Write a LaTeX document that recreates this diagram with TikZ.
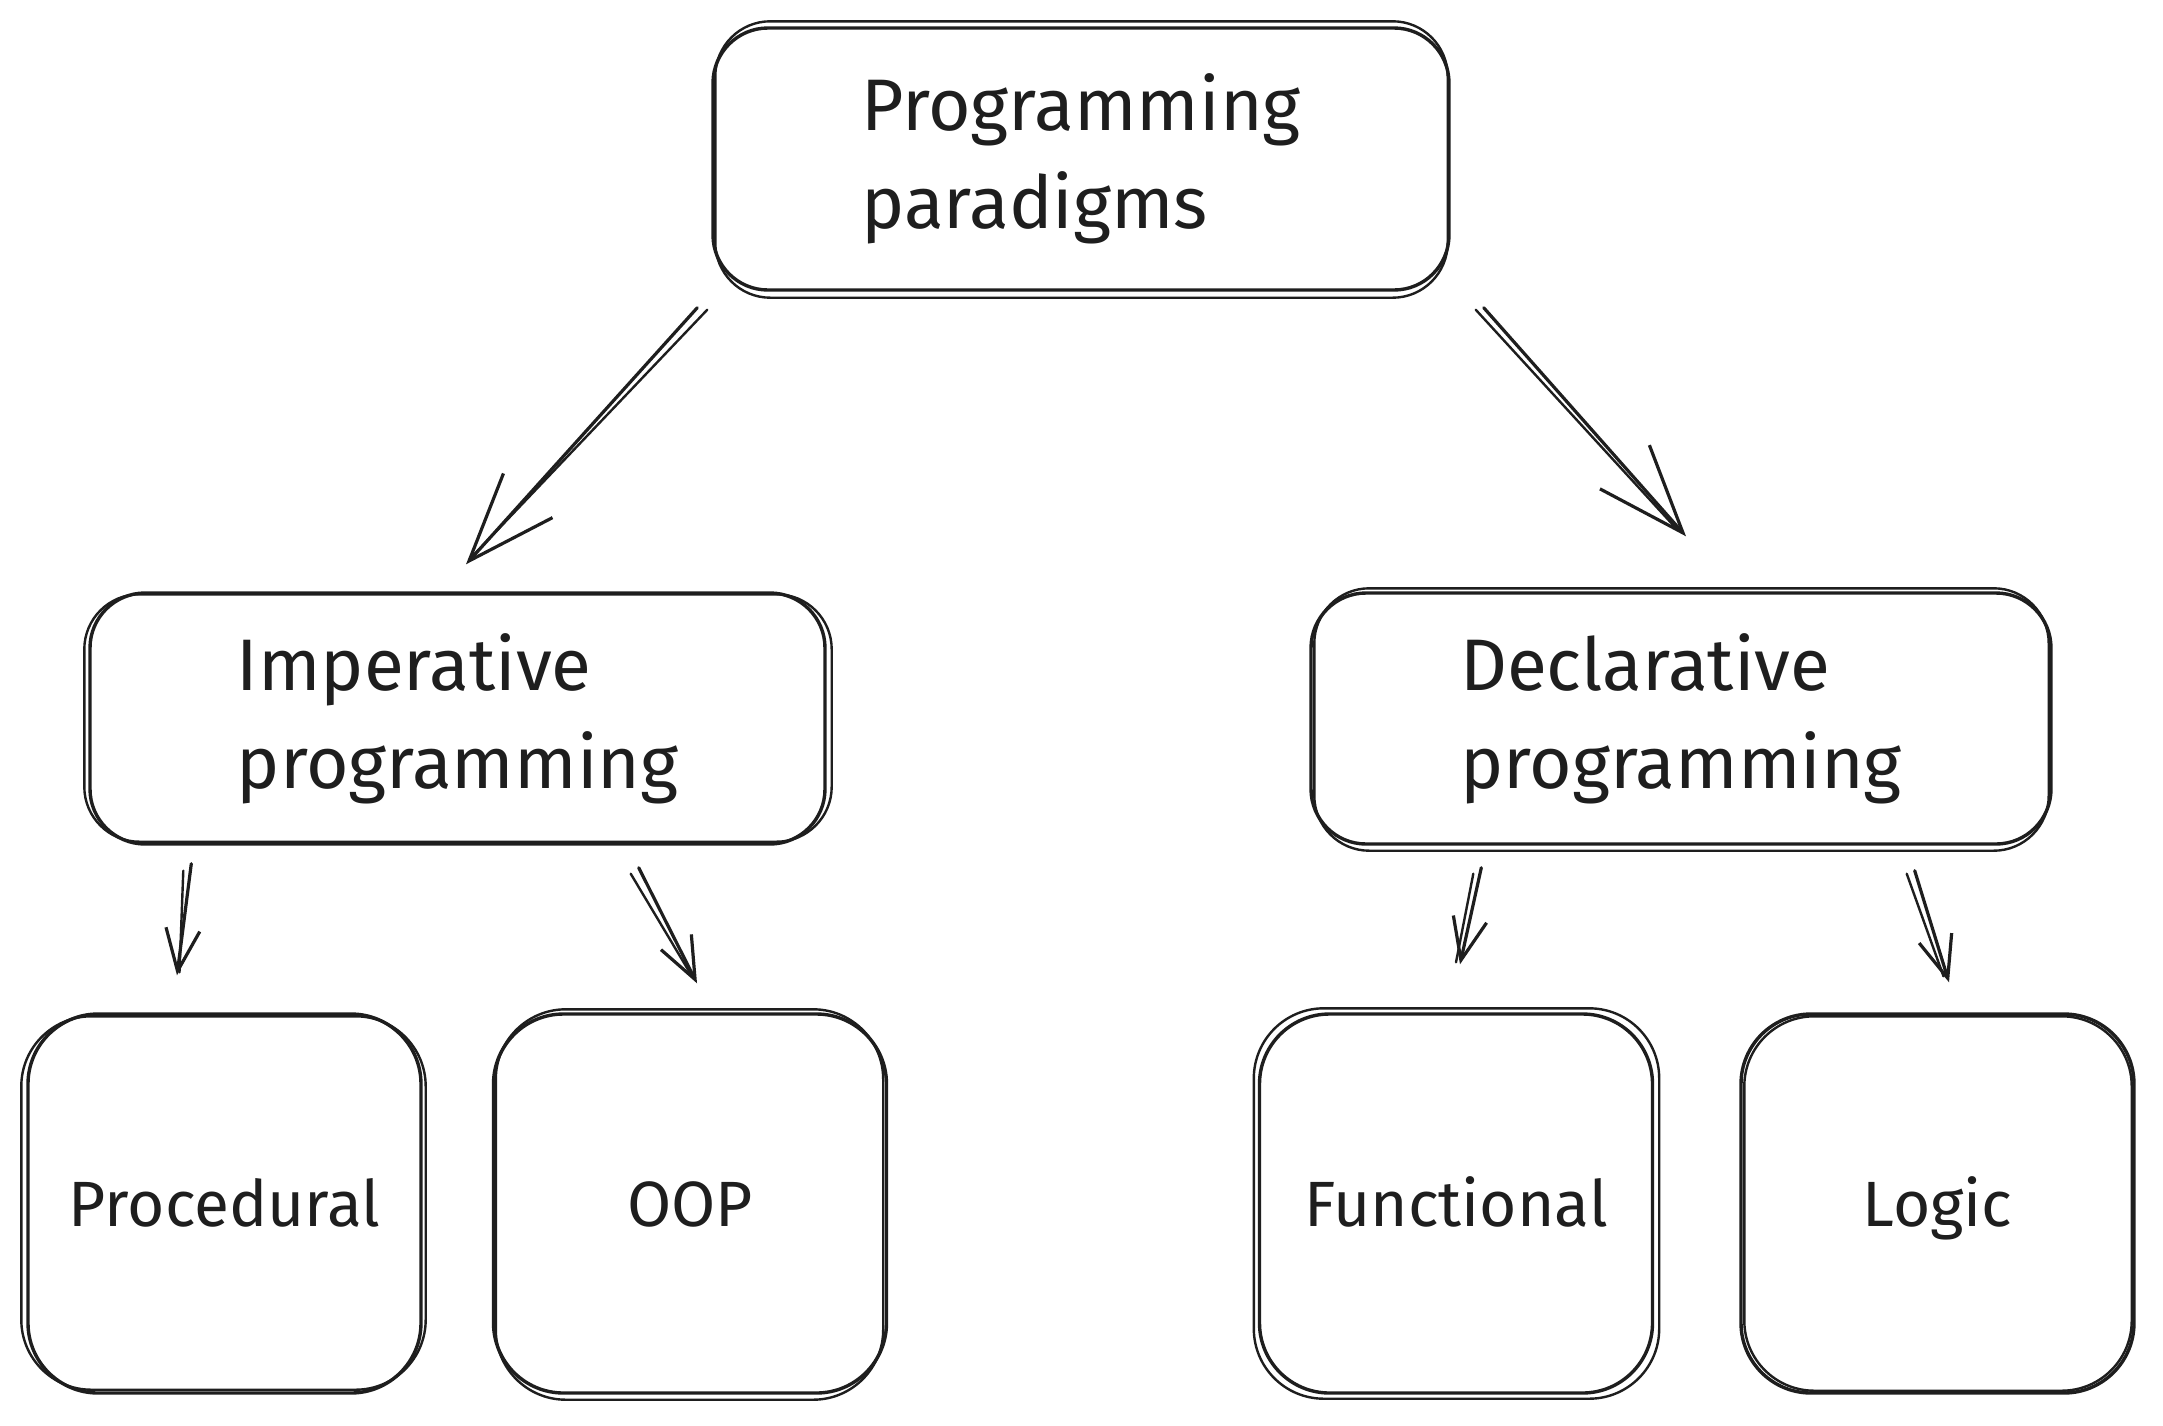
\documentclass[tikz,border=0pt]{standalone}
\usepackage{fontspec}
\setmainfont{Fira Sans}
\usetikzlibrary{arrows.meta}
\definecolor{ink}{HTML}{1E1E1E}
\begin{document}
\begin{tikzpicture}[x=1pt,y=-1pt,
  box/.style={draw=ink, line width=3.4pt, inner sep=0pt, text=ink},
  bigbox/.style={box, rounded corners=55pt, align=left, font=\fontsize{73}{98}\selectfont},
  leafbox/.style={box, rounded corners=70pt, minimum width=393pt, minimum height=379pt, font=\fontsize{64}{76}\selectfont, text height=46pt, text depth=0pt},
  skA/.style={draw=ink, line width=2.4pt, rounded corners=55pt},
  skB/.style={draw=ink, line width=2.4pt, rounded corners=70pt},
  bigarr/.style={draw=ink, line width=3.2pt, line cap=round, -{Straight Barb[length=88pt,width=66pt,line width=3.2pt]}},
  smallarr/.style={draw=ink, line width=3.2pt, line cap=round, -{Straight Barb[length=42pt,width=34pt,line width=3.2pt]}},
  shaft/.style={draw=ink, line width=2.4pt, line cap=round}]
\useasboundingbox[fill=white] (0,0) rectangle (2163,1425);

% boxes
\node[bigbox, minimum width=736pt, minimum height=262pt] (top) at (1081,159) {Programming\\paradigms};
\node[bigbox, minimum width=735pt, minimum height=251pt] (imp) at (457.5,718.5) {Imperative\\programming};
\node[bigbox, minimum width=740pt, minimum height=251pt] (dec) at (1681,718.5) {Declarative\\programming};
\node[leafbox] (proc) at (224.5,1203.5) {Procedural};
\node[leafbox] (oop) at (690,1203.5) {OOP};
\node[leafbox] (func) at (1456,1203.5) {Functional};
\node[leafbox] (logic) at (1937.5,1203.5) {Logic};

% sketchy second strokes
\draw[skA] ([shift={(4,-5)}]top.north west) rectangle ([shift={(-3,6)}]top.south east);
\draw[skA] ([shift={(-4,3)}]imp.north west) rectangle ([shift={(5,-4)}]imp.south east);
\draw[skA] ([shift={(5,-3)}]dec.north west) rectangle ([shift={(-4,5)}]dec.south east);
\draw[skB] ([shift={(-5,4)}]proc.north west) rectangle ([shift={(3,-5)}]proc.south east);
\draw[skB] ([shift={(4,-3)}]oop.north west) rectangle ([shift={(-5,5)}]oop.south east);
\draw[skB] ([shift={(-4,-4)}]func.north west) rectangle ([shift={(5,4)}]func.south east);
\draw[skB] ([shift={(5,4)}]logic.north west) rectangle ([shift={(-4,-4)}]logic.south east);

% connectors
\draw[bigarr] ([shift={(-14,16)}]top.south west) -- ([shift={(8.5,-27)}]imp.north);
\draw[shaft] ([shift={(-4,18)}]top.south west) -- ([shift={(12,-32)}]imp.north);
\draw[bigarr] ([shift={(33,16)}]top.south east) -- ([shift={(5,-55)}]dec.north);
\draw[shaft] ([shift={(25,18)}]top.south east) -- ([shift={(-4,-62)}]dec.north);

\draw[smallarr] ([shift={(103,18)}]imp.south west) -- ([shift={(-47.5,-37)}]proc.north);
\draw[shaft] ([shift={(95,25)}]imp.south west) -- ([shift={(-45,-40)}]proc.north);
\draw[smallarr] ([shift={(-188,22)}]imp.south east) -- ([shift={(7,-29)}]oop.north);
\draw[shaft] ([shift={(-196,28)}]imp.south east) -- ([shift={(2,-36)}]oop.north);
\draw[smallarr] ([shift={(172,22)}]dec.south west) -- ([shift={(4,-48)}]func.north);
\draw[shaft] ([shift={(164,28)}]dec.south west) -- ([shift={(0,-50)}]func.north);
\draw[smallarr] ([shift={(-138,25)}]dec.south east) -- ([shift={(11.5,-30)}]logic.north);
\draw[shaft] ([shift={(-146,28)}]dec.south east) -- ([shift={(6,-36)}]logic.north);
\end{tikzpicture}
\end{document}
